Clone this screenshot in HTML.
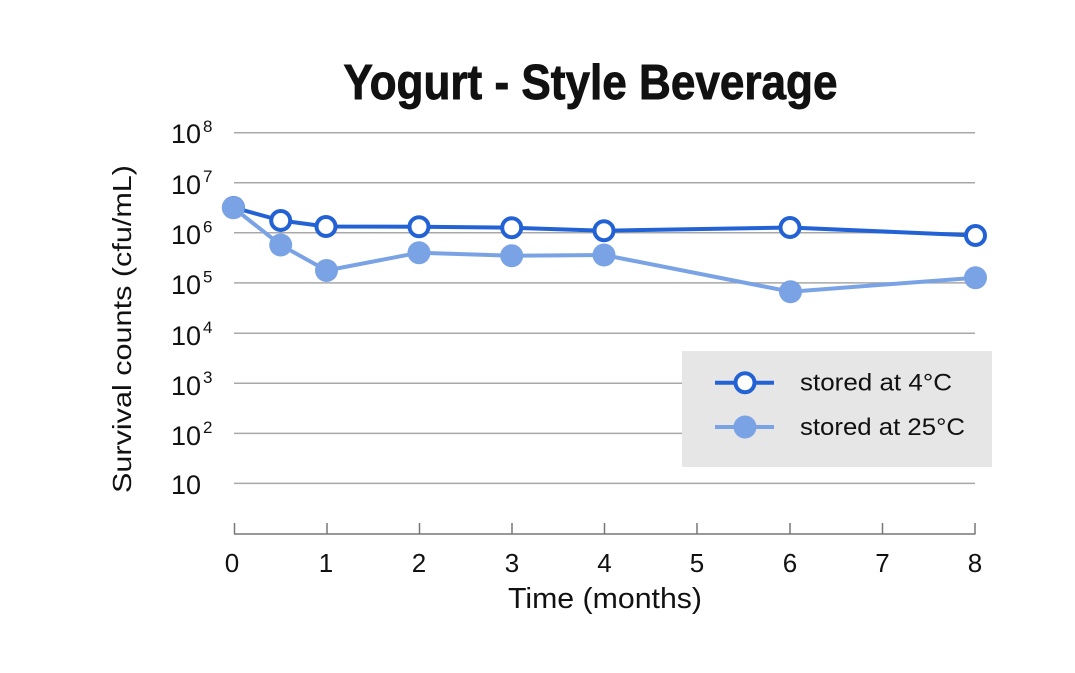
<!DOCTYPE html>
<html>
<head>
<meta charset="utf-8">
<style>
  html, body { margin: 0; padding: 0; background: #ffffff; }
  body { width: 1075px; height: 673px; overflow: hidden; }
  svg { display: block; }
  text { font-family: "Liberation Sans", "DejaVu Sans", sans-serif; fill: #111; }
</style>
</head>
<body>
<svg width="1075" height="673" viewBox="0 0 1075 673" xmlns="http://www.w3.org/2000/svg">
  <rect x="0" y="0" width="1075" height="673" fill="#ffffff"/>

  <!-- Title -->
  <g transform="translate(590.5,99) scale(1,1.1)">
    <text x="0" y="0" font-size="45" font-weight="bold" stroke="#111" stroke-width="0.8" text-anchor="middle" textLength="494" lengthAdjust="spacingAndGlyphs">Yogurt - Style Beverage</text>
  </g>

  <!-- Gridlines -->
  <g stroke="#a8a8a8" stroke-width="1.5">
    <line x1="234" y1="132.7" x2="975" y2="132.7"/>
    <line x1="234" y1="182.8" x2="975" y2="182.8"/>
    <line x1="234" y1="232.8" x2="975" y2="232.8"/>
    <line x1="234" y1="282.9" x2="975" y2="282.9"/>
    <line x1="234" y1="333.2" x2="975" y2="333.2"/>
    <line x1="234" y1="383.3" x2="975" y2="383.3"/>
    <line x1="234" y1="433.4" x2="975" y2="433.4"/>
    <line x1="234" y1="483.4" x2="975" y2="483.4"/>
  </g>

  <!-- X axis -->
  <g stroke="#777" stroke-width="1.5">
    <line x1="234" y1="534" x2="975.5" y2="534"/>
    <line x1="234.5" y1="523" x2="234.5" y2="534"/>
    <line x1="327" y1="523" x2="327" y2="534"/>
    <line x1="419.5" y1="523" x2="419.5" y2="534"/>
    <line x1="512" y1="523" x2="512" y2="534"/>
    <line x1="604.5" y1="523" x2="604.5" y2="534"/>
    <line x1="697" y1="523" x2="697" y2="534"/>
    <line x1="790" y1="523" x2="790" y2="534"/>
    <line x1="882.5" y1="523" x2="882.5" y2="534"/>
    <line x1="975" y1="523" x2="975" y2="534"/>
  </g>

  <!-- X tick labels -->
  <g font-size="26" text-anchor="middle">
    <text x="232" y="572">0</text>
    <text x="326" y="572">1</text>
    <text x="419" y="572">2</text>
    <text x="512" y="572">3</text>
    <text x="604.5" y="572">4</text>
    <text x="697" y="572">5</text>
    <text x="790" y="572">6</text>
    <text x="882.5" y="572">7</text>
    <text x="975" y="572">8</text>
  </g>

  <!-- X axis title -->
  <text x="508" y="608" font-size="29" textLength="194" lengthAdjust="spacingAndGlyphs">Time (months)</text>

  <!-- Y tick labels -->
  <g font-size="27">
    <text x="171" y="143">10</text>
    <text x="171" y="194">10</text>
    <text x="171" y="244">10</text>
    <text x="171" y="294">10</text>
    <text x="171" y="345">10</text>
    <text x="171" y="395">10</text>
    <text x="171" y="445">10</text>
    <text x="171" y="494">10</text>
  </g>
  <g font-size="17">
    <text x="203" y="132">8</text>
    <text x="203" y="182">7</text>
    <text x="203" y="232.5">6</text>
    <text x="203" y="282.5">5</text>
    <text x="203" y="333">4</text>
    <text x="203" y="383">3</text>
    <text x="203" y="433">2</text>
  </g>

  <!-- Y axis title -->
  <text transform="translate(131,493) rotate(-90)" x="0" y="0" font-size="26" textLength="328" lengthAdjust="spacingAndGlyphs">Survival counts (cfu/mL)</text>

  <!-- Series: stored at 4°C -->
  <polyline fill="none" stroke="#2362d4" stroke-width="4" stroke-linejoin="round"
    points="233.5,207.5 280.7,220.5 326,226.5 419,226.7 511.7,227.7 604,230.7 790,227.5 975.5,235.5"/>
  <g fill="#ffffff" stroke="#2362d4" stroke-width="4">
    <circle cx="233.5" cy="207.5" r="9.5"/>
    <circle cx="280.7" cy="220.5" r="9.5"/>
    <circle cx="326" cy="226.5" r="9.5"/>
    <circle cx="419" cy="226.7" r="9.5"/>
    <circle cx="511.7" cy="227.7" r="9.5"/>
    <circle cx="604" cy="230.7" r="9.5"/>
    <circle cx="790" cy="227.5" r="9.5"/>
    <circle cx="975.5" cy="235.5" r="9.5"/>
  </g>

  <!-- Series: stored at 25°C -->
  <polyline fill="none" stroke="#7aa3e6" stroke-width="4" stroke-linejoin="round"
    points="233.3,207.7 280.7,245 326.5,270.5 419,252.7 511.7,255.7 604,255 790.5,291.7 975.5,277.7"/>
  <g fill="#7aa3e6">
    <circle cx="233.3" cy="207.7" r="11.5"/>
    <circle cx="280.7" cy="245" r="11.5"/>
    <circle cx="326.5" cy="270.5" r="11.5"/>
    <circle cx="419" cy="252.7" r="11.5"/>
    <circle cx="511.7" cy="255.7" r="11.5"/>
    <circle cx="604" cy="255" r="11.5"/>
    <circle cx="790.5" cy="291.7" r="11.5"/>
    <circle cx="975.5" cy="277.7" r="11.5"/>
  </g>

  <!-- Legend -->
  <rect x="682" y="351" width="310" height="116" fill="#e6e6e6"/>
  <line x1="715" y1="382.7" x2="774" y2="382.7" stroke="#2362d4" stroke-width="4"/>
  <circle cx="745" cy="382.7" r="9.5" fill="#ffffff" stroke="#2362d4" stroke-width="4"/>
  <line x1="715" y1="427" x2="774" y2="427" stroke="#7aa3e6" stroke-width="4"/>
  <circle cx="745" cy="427" r="11.5" fill="#7aa3e6"/>
  <text x="800" y="390.5" font-size="24" textLength="152" lengthAdjust="spacingAndGlyphs">stored at 4°C</text>
  <text x="800" y="435" font-size="24" textLength="165" lengthAdjust="spacingAndGlyphs">stored at 25°C</text>
</svg>
</body>
</html>
